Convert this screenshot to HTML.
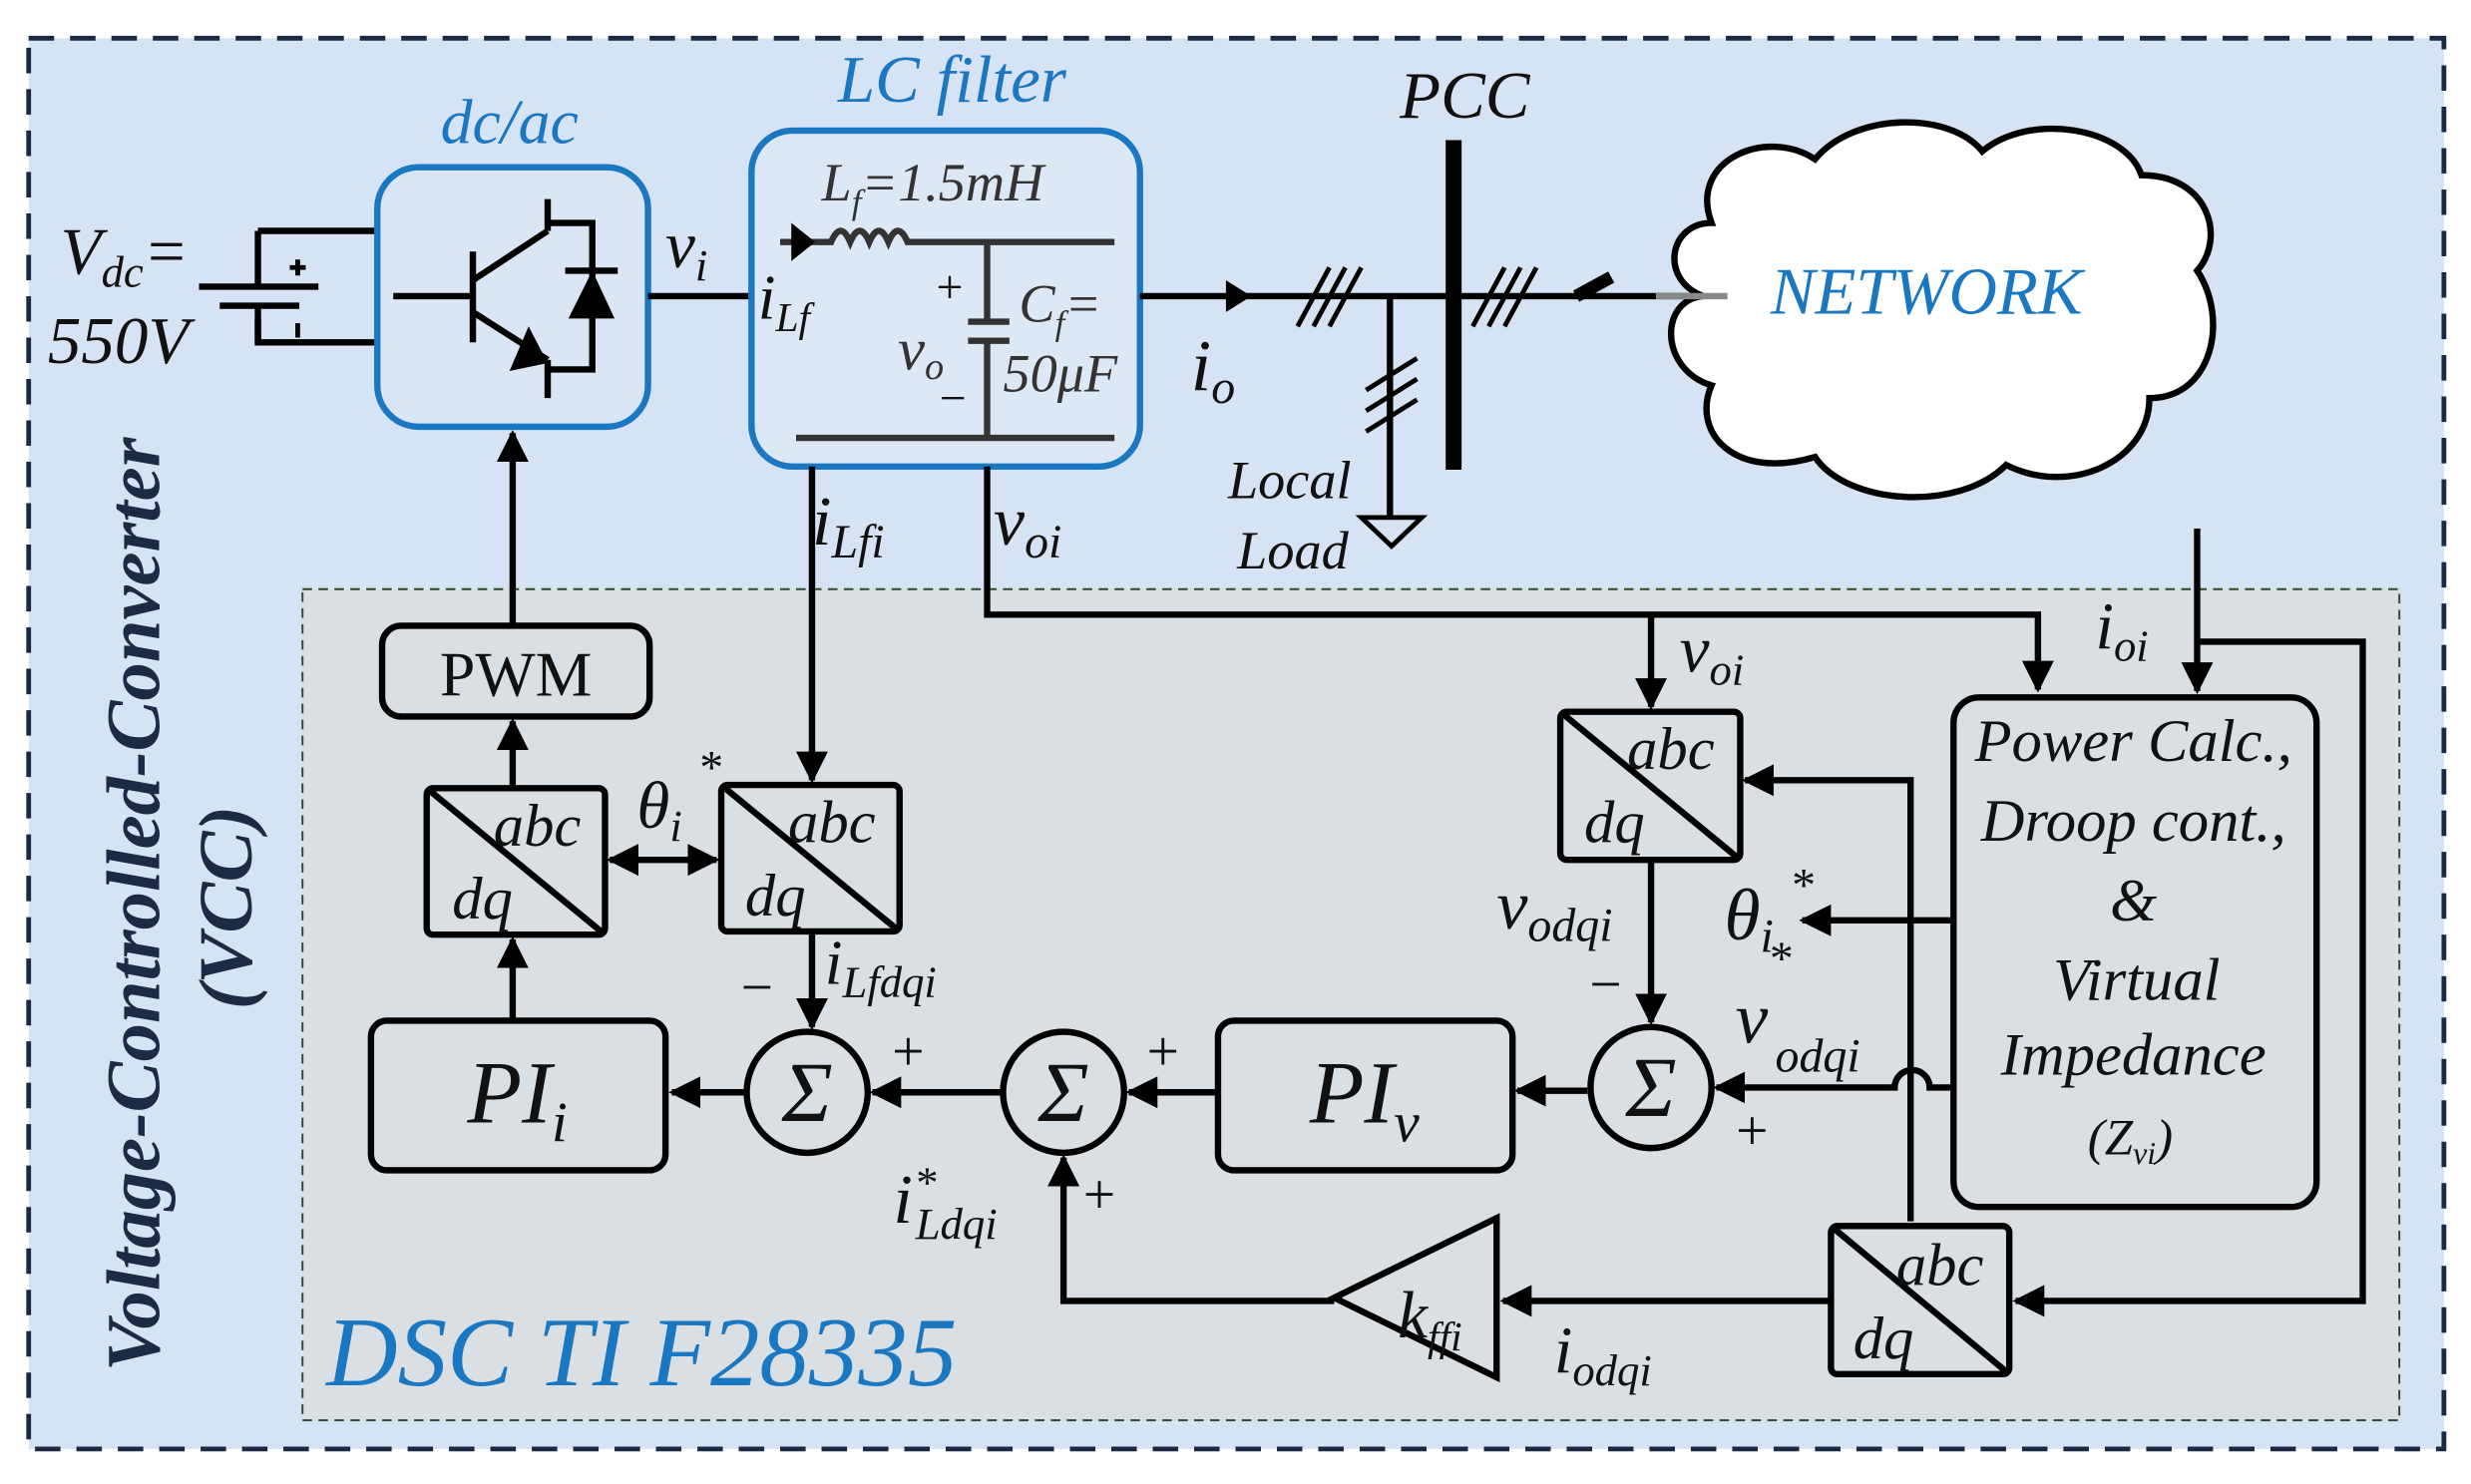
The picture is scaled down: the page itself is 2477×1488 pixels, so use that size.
<!DOCTYPE html>
<html><head><meta charset="utf-8"><style>
html,body{margin:0;padding:0;background:#fff;}
svg{display:block;}
text{font-family:"Liberation Serif",serif;font-style:italic;fill:#111;}
.b{fill:#1a78c2;}
</style></head><body>
<svg width="2477" height="1488" viewBox="0 0 1552 932" preserveAspectRatio="none" xmlns="http://www.w3.org/2000/svg">
<defs>
<marker id="ab" viewBox="0 0 10 10" refX="9" refY="5" markerWidth="20" markerHeight="20" orient="auto-start-reverse" markerUnits="userSpaceOnUse"><path d="M0,0 L10,5 L0,10 z" fill="#000"/></marker>
</defs>
<rect x="0" y="0" width="1552" height="932" fill="#fff"/>
<rect x="18" y="24" width="1517" height="886" fill="#d6e3f5" stroke="#1b2a44" stroke-width="3" stroke-dasharray="16,10"/>
<rect x="190" y="370" width="1317" height="522" fill="#d9dfe2" stroke="#2a4a30" stroke-width="1.2" stroke-dasharray="6,4"/>
<text transform="translate(100,568) rotate(-90)" text-anchor="middle" font-size="48" font-weight="bold" style="fill:#1e2a44">Voltage-Controlled-Converter</text>
<text transform="translate(158,570) rotate(-90)" text-anchor="middle" font-size="48" font-weight="bold" style="fill:#1e2a44">(VCC)</text>

<g stroke="#000" stroke-width="4" fill="none">
<path d="M162,145 H237 M162,145 V180 M162,200 V215 H237"/>
<line x1="125" y1="180" x2="200" y2="180"/>
<line x1="138" y1="192" x2="188" y2="192"/>
<line x1="162" y1="192" x2="162" y2="215"/>
<path d="M182,168 H192 M187,163 V173 M187,203 V212" stroke-width="3"/>
</g>
<text x="38" y="172" font-size="42">V<tspan font-size="28" dy="8">dc</tspan><tspan dy="-8">=</tspan></text>
<text x="30" y="228" font-size="42">550V</text>

<text x="320" y="90" text-anchor="middle" font-size="40" class="b">dc/ac</text>
<rect x="237" y="105" width="170" height="163" rx="26" fill="#dae6f6" stroke="#1a78c2" stroke-width="4"/>
<g stroke="#000" stroke-width="4" fill="none">
<path d="M247,186 H295 M297,158 V215 M297,176 L344,145 M297,196 L344,226 M344,125 V145 M344,226 V250 M344,140 H372 V232 H344"/>
</g>
<path d="M320,233 L344,228 L332,205 z" fill="#000"/>
<path d="M357,200 L372,170 L386,200 z" fill="#000"/>
<line x1="355" y1="170" x2="388" y2="170" stroke="#000" stroke-width="4"/>
<line x1="407" y1="186" x2="472" y2="186" stroke="#000" stroke-width="4"/>
<text x="418" y="168" font-size="42">v<tspan font-size="28" dy="8">i</tspan></text>

<text x="598" y="64" text-anchor="middle" font-size="42" class="b">LC filter</text>
<rect x="472" y="82" width="244" height="211" rx="26" fill="#dde8f6" stroke="#1a78c2" stroke-width="4"/>
<text x="516" y="126" font-size="34" style="fill:#333">L<tspan font-size="22" dy="8">f</tspan><tspan dy="-8">=1.5mH</tspan></text>
<path d="M490,152 H522 q6,-14 12,0 q6,-14 12,0 q6,-14 12,0 q6,-14 12,0 H700" stroke="#333" stroke-width="4" fill="none"/>
<path d="M497,140 L512,152 L497,164 z" fill="#000"/>
<path d="M620,152 V202 M620,216 V275 M500,275 H700 M608,202 H634 M608,214 H634" stroke="#333" stroke-width="4" fill="none"/>
<text x="476" y="200" font-size="40">i<tspan font-size="26" dy="8">Lf</tspan></text>
<text x="588" y="190" font-size="30" style="font-style:normal">+</text>
<text x="564" y="232" font-size="38" style="fill:#333">v<tspan font-size="24" dy="6">o</tspan></text>
<text x="590" y="260" font-size="30" style="font-style:normal">−</text>
<text x="640" y="202" font-size="34" style="fill:#333">C<tspan font-size="22" dy="8">f</tspan><tspan dy="-8">=</tspan></text>
<text x="630" y="246" font-size="34" style="fill:#333">50μF</text>

<line x1="716" y1="186" x2="1085" y2="186" stroke="#000" stroke-width="4"/>
<path d="M770,176 L786,186 L770,196 z" fill="#000"/>
<text x="748" y="245" font-size="46">i<tspan font-size="30" dy="8">o</tspan></text>
<g stroke="#000" stroke-width="3">
<path d="M815,205 L835,168 M825,205 L845,168 M835,205 L855,168"/>
<path d="M925,205 L945,168 M935,205 L955,168 M945,205 L965,168"/>
<path d="M858,245 L890,225 M858,258 L890,238 M858,271 L890,251"/>
</g>
<line x1="873" y1="186" x2="873" y2="325" stroke="#000" stroke-width="4"/>
<path d="M855,325 H893 L874,343 z" fill="none" stroke="#000" stroke-width="3"/>
<text x="810" y="313" text-anchor="middle" font-size="34">Local</text>
<text x="812" y="357" text-anchor="middle" font-size="34">Load</text>
<line x1="913" y1="88" x2="913" y2="295" stroke="#000" stroke-width="10"/>
<text x="920" y="74" text-anchor="middle" font-size="42">PCC</text>
<line x1="990" y1="186" x2="1012" y2="174" stroke="#000" stroke-width="8"/>

<path d="M1075,140 C1060,100 1110,80 1140,100 C1165,70 1225,70 1245,95 C1275,70 1335,80 1345,110 C1388,110 1398,150 1380,170 C1400,200 1390,250 1350,250 C1350,290 1300,312 1260,292 C1230,322 1160,317 1140,287 C1090,302 1062,272 1075,242 C1042,232 1042,188 1070,186 C1042,176 1048,140 1075,140 z" fill="#fff" stroke="#000" stroke-width="4"/>
<line x1="1040" y1="186" x2="1085" y2="186" stroke="#888" stroke-width="4"/>
<text x="1210" y="197" text-anchor="middle" font-size="42" class="b">NETWORK</text>

<g stroke="#000" stroke-width="4" fill="none">
<line x1="322" y1="393" x2="322" y2="272" marker-end="url(#ab)"/>
<line x1="322" y1="495" x2="322" y2="453" marker-end="url(#ab)"/>
<line x1="322" y1="641" x2="322" y2="590" marker-end="url(#ab)"/>
<line x1="383" y1="540" x2="450" y2="540" marker-start="url(#ab)" marker-end="url(#ab)"/>
<line x1="510" y1="293" x2="510" y2="490" marker-end="url(#ab)"/>
<line x1="510" y1="585" x2="510" y2="645" marker-end="url(#ab)"/>
<path d="M620,293 V386 H1280 V433" marker-end="url(#ab)"/>
<line x1="1037" y1="386" x2="1037" y2="444" marker-end="url(#ab)"/>
<line x1="1037" y1="540" x2="1037" y2="642" marker-end="url(#ab)"/>
<line x1="1380" y1="332" x2="1380" y2="434" marker-end="url(#ab)"/>
<path d="M1380,403 H1484 V817 H1266" marker-end="url(#ab)"/>
<path d="M1227,578 H1132" marker-end="url(#ab)"/>
<path d="M1200,767 V490 H1096" marker-end="url(#ab)"/>
<path d="M1227,683 H1212 a10,10 0 0 0 -22,0 H1078" marker-end="url(#ab)"/>
<line x1="997" y1="685" x2="953" y2="685" marker-end="url(#ab)"/>
<line x1="765" y1="686" x2="709" y2="686" marker-end="url(#ab)"/>
<line x1="630" y1="686" x2="548" y2="686" marker-end="url(#ab)"/>
<line x1="469" y1="686" x2="422" y2="686" marker-end="url(#ab)"/>
<line x1="1150" y1="817" x2="944" y2="817" marker-end="url(#ab)"/>
<path d="M838,817 H668 V727" marker-end="url(#ab)"/>
</g>

<g stroke="#000" stroke-width="4" fill="none">
<rect x="240" y="393" width="168" height="57" rx="12"/>
<rect x="268" y="495" width="112" height="92" rx="4"/><line x1="268" y1="495" x2="380" y2="587"/>
<rect x="453" y="493" width="112" height="92" rx="4"/><line x1="453" y1="493" x2="565" y2="585"/>
<rect x="980" y="447" width="113" height="93" rx="4"/><line x1="980" y1="447" x2="1093" y2="540"/>
<rect x="1150" y="770" width="112" height="93" rx="4"/><line x1="1150" y1="770" x2="1262" y2="863"/>
<rect x="233" y="641" width="185" height="94" rx="10"/>
<rect x="765" y="641" width="185" height="94" rx="10"/>
<rect x="1227" y="438" width="228" height="320" rx="16"/>
<circle cx="507" cy="686" r="38"/>
<circle cx="668" cy="686" r="38"/>
<circle cx="1037" cy="683" r="38"/>
<path d="M940,765 V865 L838,815 z"/>
</g>
<text x="324" y="437" text-anchor="middle" font-size="40" style="font-style:normal">PWM</text>
<g font-size="38">
<text x="310" y="531">abc</text><text x="284" y="577">dq</text>
<text x="495" y="529">abc</text><text x="468" y="575">dq</text>
<text x="1022" y="483">abc</text><text x="995" y="529">dq</text>
<text x="1191" y="807">abc</text><text x="1164" y="853">dq</text>
</g>
<text x="325" y="705" text-anchor="middle" font-size="56">PI<tspan font-size="36" dy="12">i</tspan></text>
<text x="857" y="705" text-anchor="middle" font-size="56">PI<tspan font-size="36" dy="12">v</tspan></text>
<g font-size="54" style="font-style:normal" text-anchor="middle">
<text x="507" y="704">Σ</text><text x="668" y="704">Σ</text><text x="1037" y="701">Σ</text>
</g>
<text x="878" y="840" font-size="42">k<tspan font-size="26" dy="8">ffi</tspan></text>
<g font-size="38" text-anchor="middle">
<text x="1340" y="478">Power Calc.,</text>
<text x="1340" y="528">Droop  cont.,</text>
<text x="1340" y="578">&amp;</text>
<text x="1342" y="628">Virtual</text>
<text x="1340" y="675">Impedance</text>
<text x="1338" y="725" font-size="32">(Z<tspan font-size="20" dy="6">vi</tspan><tspan dy="-6">)</tspan></text>
</g>
<text x="510" y="342" font-size="44">i<tspan font-size="30" dy="8">Lfi</tspan></text>
<text x="624" y="342" font-size="44">v<tspan font-size="30" dy="8">oi</tspan></text>
<text x="1055" y="422" font-size="42">v<tspan font-size="28" dy="8">oi</tspan></text>
<text x="1316" y="407" font-size="42">i<tspan font-size="28" dy="8">oi</tspan></text>
<text x="400" y="520" font-size="42">θ<tspan font-size="28" dy="8">i</tspan></text><text x="438" y="492" font-size="30">*</text>
<text x="1083" y="590" font-size="46">θ<tspan font-size="30" dy="8">i</tspan></text><text x="1124" y="566" font-size="30">*</text>
<text x="1090" y="655" font-size="46">v</text><text x="1110" y="612" font-size="30">*</text><text x="1115" y="673" font-size="30">odqi</text>
<text x="940" y="583" font-size="44">v<tspan font-size="30" dy="8">odqi</tspan></text>
<text x="518" y="618" font-size="40">i<tspan font-size="28" dy="8">Lfdqi</tspan></text>
<text x="561" y="768" font-size="44">i</text><text x="574" y="752" font-size="28">*</text><text x="575" y="778" font-size="28">Ldqi</text>
<text x="976" y="862" font-size="42">i<tspan font-size="28" dy="8">odqi</tspan></text>
<g font-size="36" style="font-style:normal">
<text x="463" y="632">−</text><text x="558" y="672">+</text><text x="718" y="672">+</text><text x="678" y="762">+</text>
<text x="996" y="630">−</text><text x="1088" y="722">+</text>
</g>
<text x="205" y="870" font-size="62" class="b">DSC TI F28335</text>
</svg>
</body></html>
